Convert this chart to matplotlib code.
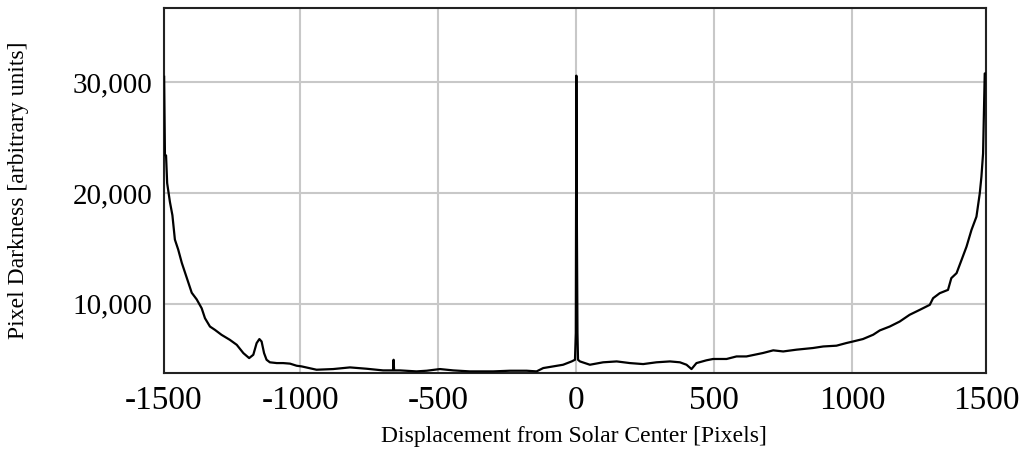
import matplotlib.pyplot as plt
from matplotlib.ticker import FuncFormatter

# intensity profile, x in pixels from solar centre
x_pos = [-1493, -1490, -1486, -1482, -1472, -1463, -1454, -1442, -1429, -1417,
         -1405, -1393, -1375, -1357, -1345, -1327, -1309, -1285, -1255, -1230,
         -1206, -1185, -1170, -1158, -1148, -1140, -1131, -1122, -1110, -1085,
         -1062, -1037, -1013, -995, -941, -881, -820, -760, -700, -664,
         -662, -660, -639, -579, -542, -494, -446, -386, -301, -241,
         -180, -144, -120, -84, -48, -17, -5, -2, 0, 2,
         4, 6, 13, 49, 97, 146, 194, 242, 290, 339,
         375, 399, 417, 435, 471, 495, 544, 580, 616, 676,
         713, 749, 797, 857, 894, 942, 978, 1002, 1038, 1075,
         1099, 1135, 1171, 1207, 1244, 1280, 1292, 1316, 1346, 1358,
         1377, 1395, 1413, 1431, 1449, 1461, 1467, 1473, 1479, 1482]
darkness = [30500, 23400, 23400, 20900, 19200, 18000, 15800, 14900, 13700, 12800,
            11900, 11000, 10400, 9600, 8700, 7950, 7650, 7200, 6750, 6300,
            5550, 5100, 5400, 6450, 6820, 6600, 5550, 4950, 4720, 4650,
            4650, 4600, 4410, 4350, 4050, 4110, 4260, 4140, 3990, 3990,
            4950, 3990, 3990, 3900, 3960, 4110, 3990, 3900, 3900, 3960,
            3960, 3900, 4200, 4350, 4500, 4800, 4950, 7360, 30600, 16800,
            7360, 4950, 4800, 4500, 4720, 4800, 4650, 4560, 4720, 4800,
            4720, 4500, 4110, 4650, 4900, 5020, 5020, 5250, 5250, 5560,
            5800, 5700, 5860, 6010, 6150, 6220, 6460, 6600, 6820, 7210,
            7600, 7950, 8400, 9010, 9460, 9910, 10510, 10960, 11260, 12320,
            12770, 13960, 15160, 16670, 17870, 19970, 21470, 23580, 30800, 30800]

x_ticks = [-1494, -1000, -500, 0, 500, 1000, 1484]
x_tick_labels = ["-1500", "-1000", "-500", "0", "500", "1000", "1500"]
y_ticks = [10000, 20000, 30000]

plt.rcParams['font.family'] = ['Liberation Serif', 'DejaVu Serif']

fig = plt.figure(figsize=(10.24, 4.5), dpi=100)
ax = fig.add_axes([0.160, 0.171, 0.803, 0.811])

ax.plot(x_pos, darkness, color="black", linewidth=1.6, zorder=3)

ax.set_xlim(-1494, 1484)
ax.set_ylim(3750, 36700)
ax.set_xticks(x_ticks, labels=x_tick_labels)
ax.set_yticks(y_ticks)
ax.yaxis.set_major_formatter(FuncFormatter(lambda v, _: f"{int(v):,}"))

ax.grid(True, color="#c8c8c8", linewidth=1.5)
ax.set_axisbelow(True)
ax.tick_params(length=0)
ax.tick_params(axis="x", labelsize=24, pad=9)
ax.tick_params(axis="y", labelsize=21, pad=8)
for s in ax.spines.values():
    s.set_linewidth(1.5)
    s.set_color("#222222")

ax.set_xlabel("Displacement from Solar Center [Pixels]", fontsize=17)
ax.set_ylabel("Pixel Darkness [arbitrary units]", fontsize=17)
ax.xaxis.set_label_coords(0.499, -0.145)
ax.yaxis.set_label_coords(-0.164, 0.5)

fig.savefig("out.png", dpi=100)
